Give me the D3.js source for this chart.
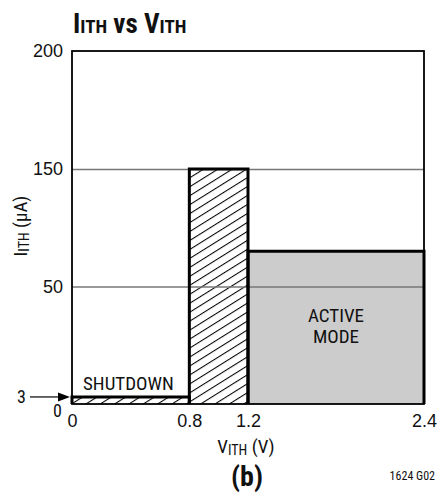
<!DOCTYPE html>
<html>
<head>
<meta charset="utf-8">
<script src="https://cdn.jsdelivr.net/npm/d3@7"></script>
<style>
  body { margin: 0; background: #fff; }
  svg { font-family: "Liberation Sans Narrow", "Roboto Condensed", "DejaVu Sans Condensed", sans-serif; }
</style>
</head>
<body>
<div id="chart"></div>
<script>
// Data
var yTicks = [50, 150, 200];
var xTicks = [0, 0.8, 1.2, 2.4];
var yBreaks = [0, 50, 150, 200];   // y axis is drawn with equal spacing between these
var regions = [
    {"name": "SHUTDOWN", "x0": 0, "x1": 0.8, "v": 3, "fill": "hatch"},
    {"name": "", "x0": 0.8, "x1": 1.2, "v": 150, "fill": "hatch"},
    {"name": "ACTIVE MODE", "x0": 1.2, "x1": 2.4, "v": 80, "fill": "#cccccc"}
];

var W = 441, H = 493;
var pLeft = 72, pTop = 51, pRight = 424, pBottom = 404;

var x = d3.scaleLinear().domain([0, 2.4]).range([pLeft, pRight]);
var y = d3.scaleLinear().domain(yBreaks).range([pBottom, 286.5, 169, pTop]);

var svg = d3.select("#chart").append("svg")
    .attr("width", W)
    .attr("height", H);

var defs = svg.append("defs");
defs.append("pattern")
    .attr("id", "hatch")
    .attr("patternUnits", "userSpaceOnUse")
    .attr("width", 10)
    .attr("height", 7.6)
    .attr("patternTransform", "rotate(-32)")
    .append("line")
    .attr("x1", 0).attr("y1", 0.5)
    .attr("x2", 10).attr("y2", 0.5)
    .attr("stroke", "#000")
    .attr("stroke-width", 1.1);

// region fills
svg.selectAll("rect.region")
    .data(regions)
    .enter()
    .append("rect")
    .attr("class", "region")
    .attr("x", function(d) { return x(d.x0); })
    .attr("y", function(d) { return y(d.v); })
    .attr("width", function(d) { return x(d.x1) - x(d.x0); })
    .attr("height", function(d) { return y(0) - y(d.v); })
    .attr("fill", function(d) { return d.fill == "hatch" ? "url(#hatch)" : d.fill; });

// grid lines
svg.append("g")
    .attr("transform", "translate(" + pLeft + ",0)")
    .call(d3.axisLeft(y).tickValues([50, 150]).tickSize(-(pRight - pLeft)).tickFormat(""))
    .call(function(g) { g.select(".domain").remove(); })
    .selectAll("line")
    .attr("stroke", "#777")
    .attr("stroke-width", 1.3);

// frame
svg.append("rect")
    .attr("x", pLeft)
    .attr("y", pTop)
    .attr("width", pRight - pLeft)
    .attr("height", pBottom - pTop)
    .attr("fill", "none")
    .attr("stroke", "#000")
    .attr("stroke-width", 1.8);

// region outlines (top and sides, heavy)
svg.selectAll("path.outline")
    .data(regions)
    .enter()
    .append("path")
    .attr("class", "outline")
    .attr("d", function(d) {
        return "M" + x(d.x0) + "," + y(0) + "V" + y(d.v) + "H" + x(d.x1) + "V" + y(0);
    })
    .attr("fill", "none")
    .attr("stroke", "#000")
    .attr("stroke-width", 3);

// region labels
regions.forEach(function(d) {
    if (!d.name) return;
    var words = d.name.split(" ");
    var cx = (x(d.x0) + x(d.x1)) / 2;
    var t = svg.append("text")
        .attr("text-anchor", "middle")
        .attr("font-size", 19)
        .attr("fill", "#111");
    if (d.fill == "hatch") {
        t.attr("x", x(d.x0) + 11).attr("y", y(d.v) - 7).attr("text-anchor", "start").text(d.name);
    } else {
        words.forEach(function(w, i) {
            t.append("tspan").attr("x", cx).attr("y", 322 + i * 21).text(w);
        });
    }
});

// y tick labels
svg.append("g")
    .attr("transform", "translate(" + (pLeft - 9) + ",0)")
    .call(d3.axisLeft(y).tickValues(yTicks).tickSize(0).tickPadding(0))
    .call(function(g) { g.select(".domain").remove(); })
    .selectAll("text")
    .attr("font-size", 18)
    .attr("font-family", null)
    .attr("fill", "#111");

svg.append("text")
    .attr("x", 62).attr("y", y(0) + 13)
    .attr("text-anchor", "end")
    .attr("font-size", 18).attr("fill", "#111")
    .text("0");
svg.append("text")
    .attr("x", 26).attr("y", y(3) + 6.5)
    .attr("text-anchor", "end")
    .attr("font-size", 18).attr("fill", "#111")
    .text("3");
svg.append("line")
    .attr("x1", 30).attr("y1", y(3))
    .attr("x2", 60).attr("y2", y(3))
    .attr("stroke", "#000").attr("stroke-width", 1.2);
svg.append("path")
    .attr("d", "M" + 70 + "," + y(3) + "l-12,-4.5v9z")
    .attr("fill", "#000");

// x tick labels
svg.append("g")
    .attr("transform", "translate(0," + (pBottom + 10) + ")")
    .call(d3.axisBottom(x).tickValues(xTicks).tickSize(0).tickPadding(0)
        .tickFormat(function(d) { return d == 0 ? "0" : d3.format(".1f")(d); }))
    .call(function(g) { g.select(".domain").remove(); })
    .selectAll("text")
    .attr("font-size", 18)
    .attr("font-family", null)
    .attr("fill", "#111");

// x axis title
var xt = svg.append("text")
    .attr("x", 246).attr("y", 453)
    .attr("text-anchor", "middle")
    .attr("font-size", 19).attr("fill", "#111");
xt.append("tspan").text("V");
xt.append("tspan").attr("font-size", 14).attr("dy", 2).text("ITH");
xt.append("tspan").attr("dy", -2).text(" (V)");

// y axis title
var yt = svg.append("text")
    .attr("transform", "translate(27,226) rotate(-90)")
    .attr("text-anchor", "middle")
    .attr("font-size", 19).attr("fill", "#111");
yt.append("tspan").text("I");
yt.append("tspan").attr("font-size", 14).attr("dy", 2).text("ITH");
yt.append("tspan").attr("dy", -2).text(" (\u00b5A)");

// chart title
var title = svg.append("text")
    .attr("x", 73).attr("y", 33)
    .attr("font-size", 27)
    .attr("font-weight", "bold")
    .attr("fill", "#111");
title.append("tspan").text("I");
title.append("tspan").attr("font-size", 19).text("ITH");
title.append("tspan").text(" vs V");
title.append("tspan").attr("font-size", 19).text("ITH");

svg.append("text")
    .attr("x", 247).attr("y", 486)
    .attr("text-anchor", "middle")
    .attr("font-size", 28).attr("font-weight", "bold").attr("fill", "#111")
    .text("(b)");

svg.append("text")
    .attr("x", 435).attr("y", 480)
    .attr("text-anchor", "end")
    .attr("font-size", 12).attr("fill", "#111")
    .text("1624 G02");
</script>
</body>
</html>
